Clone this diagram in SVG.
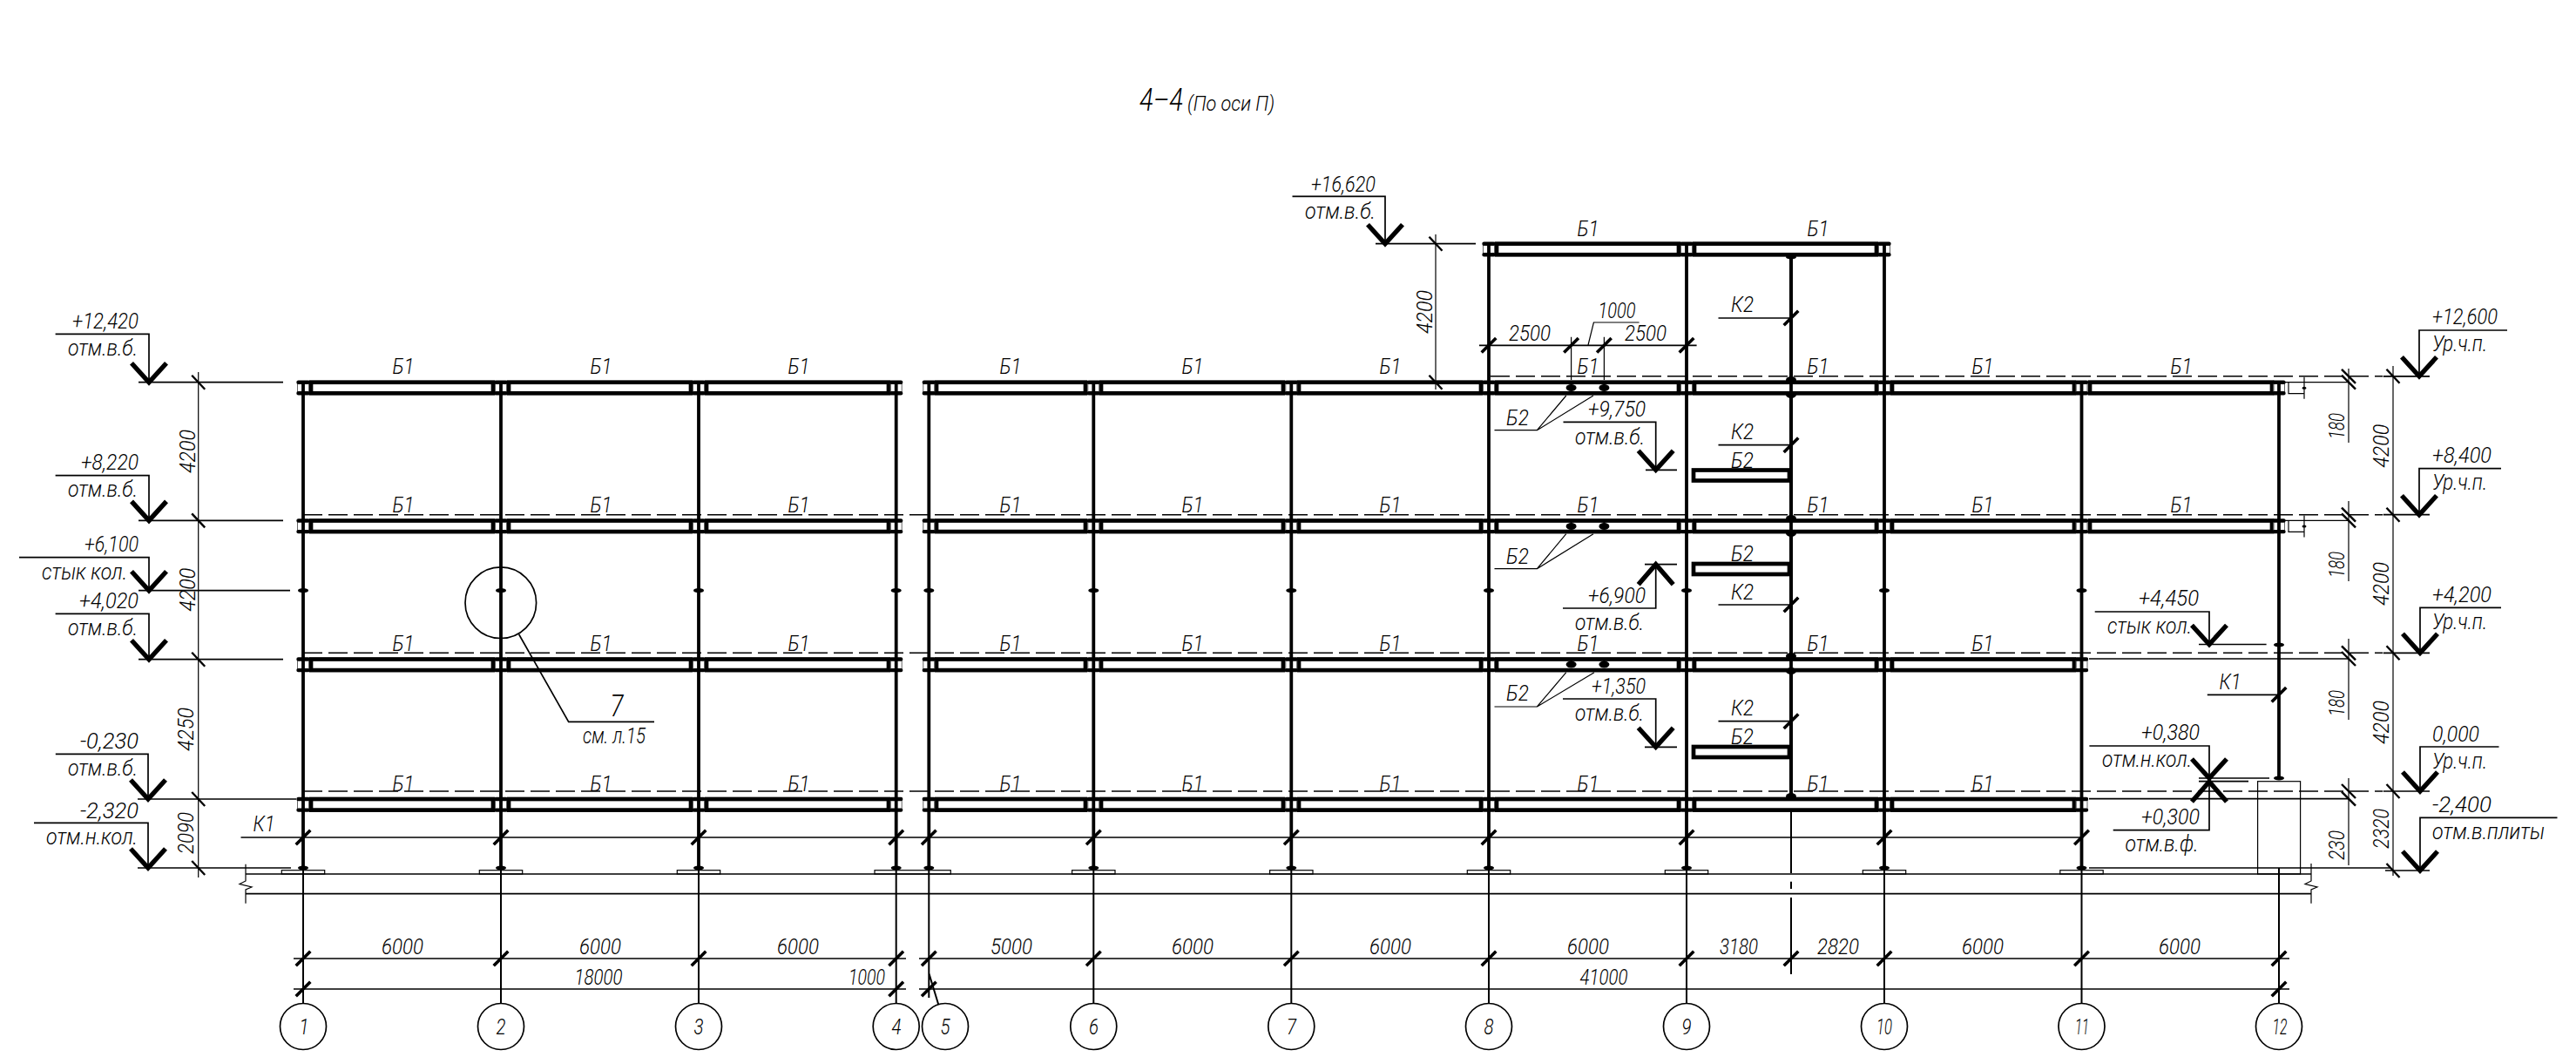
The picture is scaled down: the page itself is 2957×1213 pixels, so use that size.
<svg xmlns="http://www.w3.org/2000/svg" xmlns:xlink="http://www.w3.org/1999/xlink" width="2957" height="1213" viewBox="0 0 2957 1213">
<style>
.bg{fill:#fff}
.th,.md,.lv,.col,.k,.tk,.bt,.ar,.b,.da,.nt,.nb{fill:none;stroke:#000}
.th{stroke-width:1.2}
.md{stroke-width:1.7}
.lv{stroke-width:2.2}
.col{stroke-width:3.8}
.k{stroke-width:2}
.tk{stroke-width:3.6}
.bt{stroke-width:2.4}
.ar{stroke-width:5.4}
.b{stroke-width:4.7;fill:#fff}
.nt{stroke-width:.9;stroke:#555}
.nb{stroke-width:4.4;stroke-linecap:round}
.da{stroke-width:1.4;stroke-dasharray:22 7}
.dot{fill:#000}
text{font-family:"Roboto","Liberation Sans",sans-serif;font-style:italic;font-weight:300;font-size:26px;fill:#000}
.m{text-anchor:middle}
</style>
<defs>
<path id="t" class="tk" d="M-8.3 8.3L8.3-8.3"/>
<path id="bk" class="bt" d="M-7.5-8L7.5 8"/>
<path id="ad" class="ar" d="M-20-22L0 0L20-22"/>
<path id="au" class="ar" d="M-20 23L0 0L20 23"/>
<ellipse id="j" class="dot" rx="6" ry="2.6"/>
<ellipse id="kd" class="dot" rx="6" ry="4"/>
<rect id="bay" class="b" width="209" height="12.6"/>
<rect id="bay5" class="b" width="171" height="12.6"/>
<g id="nub"><path class="nt" d="M-6.5 0V12.6M6.5 0V12.6"/><path class="nb" d="M-5.5 0H5.5M-5.5 12.6H5.5"/></g>
<rect id="plate" class="th" x="-24.7" y="-4.3" width="49.4" height="4.3"/>
<g id="box"><path class="th" d="M2627 0V13H2645M2622 0H2696M2645-6V19"/><ellipse class="dot" cx="2645" cy="6.5" rx="2.5" ry="1.5"/></g>
<g id="dbl"><path class="bt" d="M-8-8L8 8"/></g>
</defs>
<rect class="bg" width="2957" height="1213"/>
<text id="title" x="1308" y="126.7" style="font-size:36px" textLength="50" lengthAdjust="spacingAndGlyphs">4–4</text>
<text x="1363" y="126.7" style="font-size:23px" textLength="100" lengthAdjust="spacingAndGlyphs">(По оси П)</text>

<g id="ground">
<path class="md" d="M282 1003H2653M282 1025.7H2653" stroke="#333"/>
<path class="th" d="M282 991.7V1011L275 1014.5L289 1018L282 1021V1036.7M2653 991V1011L2646 1014.5L2660 1018L2653 1021V1036.7"/>
<use href="#plate" x="348" y="1003"/><use href="#plate" x="575" y="1003"/><use href="#plate" x="802" y="1003"/>
<rect class="th" x="1004" y="998.7" width="87.3" height="4.3"/>
<use href="#plate" x="1255.3" y="1003"/><use href="#plate" x="1482.3" y="1003"/><use href="#plate" x="1709" y="1003"/><use href="#plate" x="1936" y="1003"/><use href="#plate" x="2163" y="1003"/><use href="#plate" x="2389.5" y="1003"/>
<rect class="th" x="2591.6" y="896.7" width="49" height="106.3"/>
</g>

<g id="axis-lines">
<path class="k" d="M348 996V1152M575 996V1152M802 996V1152M1028.7 996V1152M1066.3 996V1145M1066.3 1116.7L1077.3 1153M1255.3 996V1152M1482.3 996V1152M1709 996V1152M1936 996V1152M2163 996V1152M2389.5 996V1152M2616 996V1152"/>
<path class="k" d="M2056 914V1002M2056 1011.7V1020M2056 1030V1118"/>
</g>

<g id="columns">
<path class="col" d="M348 438V996M575 438V996M802 438V996M1028.7 438V996M1066.3 438V996M1255.3 438V996M1482.3 438V996M1709 280V996M1936 280V996M2163 280V996M2389.5 438V996M2616 438V893M2056 295V914"/>
<g id="joints">
<use href="#j" x="348" y="677.7"/><use href="#j" x="575" y="677.7"/><use href="#j" x="802" y="677.7"/><use href="#j" x="1028.7" y="677.7"/><use href="#j" x="1066.3" y="677.7"/><use href="#j" x="1255.3" y="677.7"/><use href="#j" x="1482.3" y="677.7"/><use href="#j" x="1709" y="677.7"/><use href="#j" x="1936" y="677.7"/><use href="#j" x="2163" y="677.7"/><use href="#j" x="2389.5" y="677.7"/><use href="#j" x="2616" y="740"/>
<use href="#j" x="348" y="996"/><use href="#j" x="575" y="996"/><use href="#j" x="802" y="996"/><use href="#j" x="1028.7" y="996"/><use href="#j" x="1066.3" y="996"/><use href="#j" x="1255.3" y="996"/><use href="#j" x="1482.3" y="996"/><use href="#j" x="1709" y="996"/><use href="#j" x="1936" y="996"/><use href="#j" x="2163" y="996"/><use href="#j" x="2389.5" y="996"/><use href="#j" x="2616" y="893"/>
</g>
</g>

<g id="beams">
<use href="#bay" x="1718" y="279.7"/><use href="#bay" x="1945" y="279.7"/>
<use href="#bay" x="357" y="438.7"/><use href="#bay" x="584" y="438.7"/><use href="#bay" x="811" y="438.7"/><use href="#bay5" x="1075" y="438.7"/><use href="#bay" x="1264" y="438.7"/><use href="#bay" x="1491" y="438.7"/><use href="#bay" x="1718" y="438.7"/><use href="#bay" x="1945" y="438.7"/><use href="#bay" x="2172" y="438.7"/><use href="#bay" x="2399" y="438.7"/>
<use href="#bay" x="357" y="597.5"/><use href="#bay" x="584" y="597.5"/><use href="#bay" x="811" y="597.5"/><use href="#bay5" x="1075" y="597.5"/><use href="#bay" x="1264" y="597.5"/><use href="#bay" x="1491" y="597.5"/><use href="#bay" x="1718" y="597.5"/><use href="#bay" x="1945" y="597.5"/><use href="#bay" x="2172" y="597.5"/><use href="#bay" x="2399" y="597.5"/>
<use href="#bay" x="357" y="756.5"/><use href="#bay" x="584" y="756.5"/><use href="#bay" x="811" y="756.5"/><use href="#bay5" x="1075" y="756.5"/><use href="#bay" x="1264" y="756.5"/><use href="#bay" x="1491" y="756.5"/><use href="#bay" x="1718" y="756.5"/><use href="#bay" x="1945" y="756.5"/><use href="#bay" x="2172" y="756.5"/>
<use href="#bay" x="357" y="917"/><use href="#bay" x="584" y="917"/><use href="#bay" x="811" y="917"/><use href="#bay5" x="1075" y="917"/><use href="#bay" x="1264" y="917"/><use href="#bay" x="1491" y="917"/><use href="#bay" x="1718" y="917"/><use href="#bay" x="1945" y="917"/><use href="#bay" x="2172" y="917"/>
<path class="col" d="M2056 295V914"/>
<rect class="b" x="1944" y="539.5" width="110" height="12"/>
<rect class="b" x="1944" y="647" width="110" height="12"/>
<rect class="b" x="1944" y="857" width="110" height="12"/>
<use href="#nub" x="1709" y="279.7"/><use href="#nub" x="1936" y="279.7"/><use href="#nub" x="2163" y="279.7"/>
<use href="#nub" x="348" y="438.7"/><use href="#nub" x="575" y="438.7"/><use href="#nub" x="802" y="438.7"/><use href="#nub" x="1028.7" y="438.7"/><use href="#nub" x="1066.3" y="438.7"/><use href="#nub" x="1255.3" y="438.7"/><use href="#nub" x="1482.3" y="438.7"/><use href="#nub" x="1709" y="438.7"/><use href="#nub" x="1936" y="438.7"/><use href="#nub" x="2163" y="438.7"/><use href="#nub" x="2389.5" y="438.7"/><use href="#nub" x="2616" y="438.7"/>
<use href="#nub" x="348" y="597.5"/><use href="#nub" x="575" y="597.5"/><use href="#nub" x="802" y="597.5"/><use href="#nub" x="1028.7" y="597.5"/><use href="#nub" x="1066.3" y="597.5"/><use href="#nub" x="1255.3" y="597.5"/><use href="#nub" x="1482.3" y="597.5"/><use href="#nub" x="1709" y="597.5"/><use href="#nub" x="1936" y="597.5"/><use href="#nub" x="2163" y="597.5"/><use href="#nub" x="2389.5" y="597.5"/><use href="#nub" x="2616" y="597.5"/>
<use href="#nub" x="348" y="756.5"/><use href="#nub" x="575" y="756.5"/><use href="#nub" x="802" y="756.5"/><use href="#nub" x="1028.7" y="756.5"/><use href="#nub" x="1066.3" y="756.5"/><use href="#nub" x="1255.3" y="756.5"/><use href="#nub" x="1482.3" y="756.5"/><use href="#nub" x="1709" y="756.5"/><use href="#nub" x="1936" y="756.5"/><use href="#nub" x="2163" y="756.5"/><use href="#nub" x="2389.5" y="756.5"/>
<use href="#nub" x="348" y="917"/><use href="#nub" x="575" y="917"/><use href="#nub" x="802" y="917"/><use href="#nub" x="1028.7" y="917"/><use href="#nub" x="1066.3" y="917"/><use href="#nub" x="1255.3" y="917"/><use href="#nub" x="1482.3" y="917"/><use href="#nub" x="1709" y="917"/><use href="#nub" x="1936" y="917"/><use href="#nub" x="2163" y="917"/><use href="#nub" x="2389.5" y="917"/>
<use href="#kd" x="2056" y="436"/><use href="#kd" x="2056" y="453"/><use href="#kd" x="2056" y="595"/><use href="#kd" x="2056" y="612"/><use href="#kd" x="2056" y="753"/><use href="#kd" x="2056" y="770"/><use href="#kd" x="2056" y="914"/><use href="#j" x="2056" y="295"/>
<use href="#kd" x="1803.6" y="445"/><use href="#kd" x="1841.4" y="445"/><use href="#kd" x="1803.6" y="604"/><use href="#kd" x="1841.4" y="604"/><use href="#kd" x="1803.6" y="762.5"/><use href="#kd" x="1841.4" y="762.5"/>
<path class="k" d="M1803.6 438V445M1841.4 438V445M1803.6 597V604M1841.4 597V604M1803.6 756V762M1841.4 756V762"/>
</g>

<g id="dashed">
<path class="da" d="M1711 431.8H2735M348 590.7H2735M348 749.3H2735M348 908H2735"/>
</g>

<g id="levels">
<path class="md" d="M159 438.7H325M159 597.4H325M159 677.7H333M159 756.7H325M158 917H340M158 996H334M1579 279.7H1694"/>
<path class="md" d="M2735.7 431.8H2789M2735.7 590.7H2789M2735.7 749.3H2789M2735.7 908H2789M2738 999H2789M2398 916.7H2696M2398 756H2696M2398 996H2744"/>
<use href="#box" y="438.7"/><use href="#box" y="597.4"/>
<path class="md" d="M1889 539.3H1925M1888 647.7H1925M1888 857.3H1925M2524 739.5H2601.6M2524 893H2605M2524 896.7H2581"/>
</g>

<g id="dimensions">
<path class="th" d="M227.7 427V1007M1648 269V447M2747 420V1005M2696 423V508M2696 575V667M2696 733V826M2696 893V993"/>
<use href="#bk" x="227.7" y="438.7"/><use href="#bk" x="227.7" y="597.4"/><use href="#bk" x="227.7" y="756.7"/><use href="#bk" x="227.7" y="917"/><use href="#bk" x="227.7" y="996"/>
<use href="#bk" x="1648" y="279.7"/><use href="#bk" x="1648" y="438.7"/>
<use href="#bk" x="2747" y="431.8"/><use href="#bk" x="2747" y="590.7"/><use href="#bk" x="2747" y="749.3"/><use href="#bk" x="2747" y="908"/><use href="#bk" x="2747" y="999"/>
<use href="#dbl" x="2696" y="431.8"/><use href="#dbl" x="2696" y="438.7"/><use href="#dbl" x="2696" y="590.7"/><use href="#dbl" x="2696" y="597.4"/><use href="#dbl" x="2696" y="749.3"/><use href="#dbl" x="2696" y="756"/><use href="#dbl" x="2696" y="908"/><use href="#dbl" x="2696" y="916.7"/>
<path class="md" d="M337 1100H1040M1055 1100H2628M337 1135H1040M1055 1135H2628M276.5 961H2389.5M1698 396.3H1947.6"/>
<path class="th" d="M1803.6 386.7V436M1841.4 386.7V436M1823 396L1829.4 370H1881.6"/>
<use href="#t" x="348" y="1100"/><use href="#t" x="575" y="1100"/><use href="#t" x="802" y="1100"/><use href="#t" x="1028.7" y="1100"/><use href="#t" x="1066.3" y="1100"/><use href="#t" x="1255.3" y="1100"/><use href="#t" x="1482.3" y="1100"/><use href="#t" x="1709" y="1100"/><use href="#t" x="1936" y="1100"/><use href="#t" x="2056" y="1100"/><use href="#t" x="2163" y="1100"/><use href="#t" x="2389.5" y="1100"/><use href="#t" x="2616" y="1100"/>
<use href="#t" x="348" y="1135"/><use href="#t" x="1028.7" y="1135"/><use href="#t" x="1066.3" y="1135"/><use href="#t" x="2616" y="1135"/>
<use href="#t" x="348" y="961"/><use href="#t" x="575" y="961"/><use href="#t" x="802" y="961"/><use href="#t" x="1028.7" y="961"/><use href="#t" x="1066.3" y="961"/><use href="#t" x="1255.3" y="961"/><use href="#t" x="1482.3" y="961"/><use href="#t" x="1709" y="961"/><use href="#t" x="1936" y="961"/><use href="#t" x="2163" y="961"/><use href="#t" x="2389.5" y="961"/>
<use href="#t" x="1709" y="396.3"/><use href="#t" x="1803.6" y="396.3"/><use href="#t" x="1841.4" y="396.3"/><use href="#t" x="1936" y="396.3"/>
<use href="#t" x="2056" y="365"/><use href="#t" x="2056" y="510.7"/><use href="#t" x="2056" y="694"/><use href="#t" x="2056" y="827.7"/><use href="#t" x="2616" y="797.3"/>
<path class="md" d="M1972.5 365H2056M1972.5 510.7H2056M1972.5 694H2056M1972.5 827.7H2056M2533.8 797.3H2616"/>
<path class="th" d="M1715.5 493.7H1764.4L1797.8 454M1764.4 493.7L1829 454M1715.5 652.7H1764.4L1797.8 612.7M1764.4 652.7L1829 612.7M1715.5 811H1764.4L1797.8 771.7M1764.4 811L1830 771.7"/>
</g>

<g id="elevations">
<path class="md" d="M63.6 383.3H171V438.7M63.6 545.7H171V597.4M22 639.7H171V677.7M63.6 704.3H171V756.7M63.8 865.3H170V917M39 944.3H170V996M1483.5 225.3H1590V279.7M1794.5 484.3H1900.7V539.3M1794 698H1900.7V647.7M1794 802H1900.7V857.3M2404.7 702H2536V739.5M2398.4 856H2536V893M2425.7 952.7H2536V897M2878 379H2777V431.8M2871 537.7H2777V590.7M2871 697.3H2778V749.3M2868.5 857H2778V908M2935.5 938.3H2778V999"/>
<use href="#ad" x="171" y="438.7"/><use href="#ad" x="171" y="597.4"/><use href="#ad" x="171" y="677.7"/><use href="#ad" x="171" y="756.7"/><use href="#ad" x="170" y="917"/><use href="#ad" x="170" y="996"/><use href="#ad" x="1590" y="279.7"/><use href="#ad" x="1900.7" y="539.3"/><use href="#au" x="1900.7" y="647.7"/><use href="#ad" x="1900.7" y="857.3"/><use href="#ad" x="2536" y="739.5"/><use href="#ad" x="2536" y="893"/><use href="#au" x="2536" y="897"/><use href="#ad" x="2777" y="431.8"/><use href="#ad" x="2777" y="590.7"/><use href="#ad" x="2778" y="749.3"/><use href="#ad" x="2778" y="908"/><use href="#ad" x="2778" y="999"/>
</g>

<g id="callout-7">
<circle class="md" cx="574.8" cy="691.7" r="40.8"/>
<path class="md" d="M595.7 728L652.7 828.3H751"/>
<text class="m" x="708" y="821.7" style="font-size:35px" textLength="15" lengthAdjust="spacingAndGlyphs">7</text>
<text x="669" y="852.7" textLength="72" lengthAdjust="spacingAndGlyphs">см. л.15</text>
</g>

<g id="axis-marks">
<circle class="md" cx="348" cy="1178" r="26.5"/><circle class="md" cx="575" cy="1178" r="26.5"/><circle class="md" cx="802" cy="1178" r="26.5"/><circle class="md" cx="1028.7" cy="1178" r="26.5"/><circle class="md" cx="1085" cy="1178" r="26.5"/><circle class="md" cx="1255.3" cy="1178" r="26.5"/><circle class="md" cx="1482.3" cy="1178" r="26.5"/><circle class="md" cx="1709" cy="1178" r="26.5"/><circle class="md" cx="1936" cy="1178" r="26.5"/><circle class="md" cx="2163" cy="1178" r="26.5"/><circle class="md" cx="2389.5" cy="1178" r="26.5"/><circle class="md" cx="2616" cy="1178" r="26.5"/>
<text class="m" x="349" y="1187" textLength="11" lengthAdjust="spacingAndGlyphs">1</text><text class="m" x="575" y="1187" textLength="11" lengthAdjust="spacingAndGlyphs">2</text><text class="m" x="802" y="1187" textLength="11" lengthAdjust="spacingAndGlyphs">3</text><text class="m" x="1029" y="1187" textLength="11" lengthAdjust="spacingAndGlyphs">4</text><text class="m" x="1085" y="1187" textLength="11" lengthAdjust="spacingAndGlyphs">5</text><text class="m" x="1255.5" y="1187" textLength="11" lengthAdjust="spacingAndGlyphs">6</text><text class="m" x="1482.5" y="1187" textLength="11" lengthAdjust="spacingAndGlyphs">7</text><text class="m" x="1709" y="1187" textLength="11" lengthAdjust="spacingAndGlyphs">8</text><text class="m" x="1936" y="1187" textLength="11" lengthAdjust="spacingAndGlyphs">9</text><text class="m" x="2163" y="1187" textLength="18" lengthAdjust="spacingAndGlyphs">10</text><text class="m" x="2390" y="1187" textLength="16" lengthAdjust="spacingAndGlyphs">11</text><text class="m" x="2617" y="1187" textLength="17" lengthAdjust="spacingAndGlyphs">12</text>
</g>

<g id="beam-labels" lengthAdjust="spacingAndGlyphs">
<text class="m" x="1823" y="271" textLength="25" lengthAdjust="spacingAndGlyphs">Б1</text><text class="m" x="2087" y="271" textLength="25" lengthAdjust="spacingAndGlyphs">Б1</text>
<text class="m" x="463" y="429.3" textLength="25" lengthAdjust="spacingAndGlyphs">Б1</text><text class="m" x="690" y="429.3" textLength="25" lengthAdjust="spacingAndGlyphs">Б1</text><text class="m" x="917" y="429.3" textLength="25" lengthAdjust="spacingAndGlyphs">Б1</text><text class="m" x="1160" y="429.3" textLength="25" lengthAdjust="spacingAndGlyphs">Б1</text><text class="m" x="1369" y="429.3" textLength="25" lengthAdjust="spacingAndGlyphs">Б1</text><text class="m" x="1596" y="429.3" textLength="25" lengthAdjust="spacingAndGlyphs">Б1</text><text class="m" x="1823" y="429.3" textLength="25" lengthAdjust="spacingAndGlyphs">Б1</text><text class="m" x="2087" y="429.3" textLength="25" lengthAdjust="spacingAndGlyphs">Б1</text><text class="m" x="2276" y="429.3" textLength="25" lengthAdjust="spacingAndGlyphs">Б1</text><text class="m" x="2504" y="429.3" textLength="25" lengthAdjust="spacingAndGlyphs">Б1</text>
<text class="m" x="463" y="587.7" textLength="25" lengthAdjust="spacingAndGlyphs">Б1</text><text class="m" x="690" y="587.7" textLength="25" lengthAdjust="spacingAndGlyphs">Б1</text><text class="m" x="917" y="587.7" textLength="25" lengthAdjust="spacingAndGlyphs">Б1</text><text class="m" x="1160" y="587.7" textLength="25" lengthAdjust="spacingAndGlyphs">Б1</text><text class="m" x="1369" y="587.7" textLength="25" lengthAdjust="spacingAndGlyphs">Б1</text><text class="m" x="1596" y="587.7" textLength="25" lengthAdjust="spacingAndGlyphs">Б1</text><text class="m" x="1823" y="587.7" textLength="25" lengthAdjust="spacingAndGlyphs">Б1</text><text class="m" x="2087" y="587.7" textLength="25" lengthAdjust="spacingAndGlyphs">Б1</text><text class="m" x="2276" y="587.7" textLength="25" lengthAdjust="spacingAndGlyphs">Б1</text><text class="m" x="2504" y="587.7" textLength="25" lengthAdjust="spacingAndGlyphs">Б1</text>
<text class="m" x="463" y="746.7" textLength="25" lengthAdjust="spacingAndGlyphs">Б1</text><text class="m" x="690" y="746.7" textLength="25" lengthAdjust="spacingAndGlyphs">Б1</text><text class="m" x="917" y="746.7" textLength="25" lengthAdjust="spacingAndGlyphs">Б1</text><text class="m" x="1160" y="746.7" textLength="25" lengthAdjust="spacingAndGlyphs">Б1</text><text class="m" x="1369" y="746.7" textLength="25" lengthAdjust="spacingAndGlyphs">Б1</text><text class="m" x="1596" y="746.7" textLength="25" lengthAdjust="spacingAndGlyphs">Б1</text><text class="m" x="1823" y="746.7" textLength="25" lengthAdjust="spacingAndGlyphs">Б1</text><text class="m" x="2087" y="746.7" textLength="25" lengthAdjust="spacingAndGlyphs">Б1</text><text class="m" x="2276" y="746.7" textLength="25" lengthAdjust="spacingAndGlyphs">Б1</text>
<text class="m" x="463" y="908" textLength="25" lengthAdjust="spacingAndGlyphs">Б1</text><text class="m" x="690" y="908" textLength="25" lengthAdjust="spacingAndGlyphs">Б1</text><text class="m" x="917" y="908" textLength="25" lengthAdjust="spacingAndGlyphs">Б1</text><text class="m" x="1160" y="908" textLength="25" lengthAdjust="spacingAndGlyphs">Б1</text><text class="m" x="1369" y="908" textLength="25" lengthAdjust="spacingAndGlyphs">Б1</text><text class="m" x="1596" y="908" textLength="25" lengthAdjust="spacingAndGlyphs">Б1</text><text class="m" x="1823" y="908" textLength="25" lengthAdjust="spacingAndGlyphs">Б1</text><text class="m" x="2087" y="908" textLength="25" lengthAdjust="spacingAndGlyphs">Б1</text><text class="m" x="2276" y="908" textLength="25" lengthAdjust="spacingAndGlyphs">Б1</text>
<text class="m" x="1742" y="487.7" textLength="26" lengthAdjust="spacingAndGlyphs">Б2</text><text class="m" x="1742" y="646.7" textLength="26" lengthAdjust="spacingAndGlyphs">Б2</text><text class="m" x="1742" y="804" textLength="26" lengthAdjust="spacingAndGlyphs">Б2</text>
<text class="m" x="2000" y="536.7" textLength="26" lengthAdjust="spacingAndGlyphs">Б2</text><text class="m" x="2000" y="644.3" textLength="26" lengthAdjust="spacingAndGlyphs">Б2</text><text class="m" x="2000" y="854.3" textLength="26" lengthAdjust="spacingAndGlyphs">Б2</text>
<text class="m" x="2000" y="358" textLength="26" lengthAdjust="spacingAndGlyphs">К2</text><text class="m" x="2000" y="504" textLength="26" lengthAdjust="spacingAndGlyphs">К2</text><text class="m" x="2000" y="687.7" textLength="26" lengthAdjust="spacingAndGlyphs">К2</text><text class="m" x="2000" y="821" textLength="26" lengthAdjust="spacingAndGlyphs">К2</text>
<text class="m" x="303" y="954" textLength="25" lengthAdjust="spacingAndGlyphs">К1</text><text class="m" x="2560" y="791" textLength="25" lengthAdjust="spacingAndGlyphs">К1</text>
</g>

<g id="dimension-labels">
<text class="m" x="462" y="1095" textLength="48" lengthAdjust="spacingAndGlyphs">6000</text><text class="m" x="689" y="1095" textLength="48" lengthAdjust="spacingAndGlyphs">6000</text><text class="m" x="916" y="1095" textLength="48" lengthAdjust="spacingAndGlyphs">6000</text><text class="m" x="1161" y="1095" textLength="48" lengthAdjust="spacingAndGlyphs">5000</text><text class="m" x="1369" y="1095" textLength="48" lengthAdjust="spacingAndGlyphs">6000</text><text class="m" x="1596" y="1095" textLength="48" lengthAdjust="spacingAndGlyphs">6000</text><text class="m" x="1823" y="1095" textLength="48" lengthAdjust="spacingAndGlyphs">6000</text><text class="m" x="1996" y="1095" textLength="44" lengthAdjust="spacingAndGlyphs">3180</text><text class="m" x="2110" y="1095" textLength="48" lengthAdjust="spacingAndGlyphs">2820</text><text class="m" x="2276" y="1095" textLength="48" lengthAdjust="spacingAndGlyphs">6000</text><text class="m" x="2502" y="1095" textLength="48" lengthAdjust="spacingAndGlyphs">6000</text>
<text class="m" x="687" y="1130" textLength="55" lengthAdjust="spacingAndGlyphs">18000</text><text class="m" x="995" y="1130" textLength="42" lengthAdjust="spacingAndGlyphs">1000</text><text class="m" x="1841" y="1130" textLength="55" lengthAdjust="spacingAndGlyphs">41000</text>
<text class="m" x="1756" y="391" textLength="48" lengthAdjust="spacingAndGlyphs">2500</text><text class="m" x="1889" y="391" textLength="48" lengthAdjust="spacingAndGlyphs">2500</text><text class="m" x="1856" y="365" textLength="43" lengthAdjust="spacingAndGlyphs">1000</text>
<text class="m" transform="rotate(-90 224 518)" x="224" y="518" textLength="50" lengthAdjust="spacingAndGlyphs">4200</text>
<text class="m" transform="rotate(-90 224 676.7)" x="224" y="676.7" textLength="50" lengthAdjust="spacingAndGlyphs">4200</text>
<text class="m" transform="rotate(-90 222 837)" x="222" y="837" textLength="50" lengthAdjust="spacingAndGlyphs">4250</text>
<text class="m" transform="rotate(-90 222 956)" x="222" y="956" textLength="48" lengthAdjust="spacingAndGlyphs">2090</text>
<text class="m" transform="rotate(-90 1644 358)" x="1644" y="358" textLength="50" lengthAdjust="spacingAndGlyphs">4200</text>
<text class="m" transform="rotate(-90 2691 489)" x="2691" y="489" textLength="30" lengthAdjust="spacingAndGlyphs">180</text>
<text class="m" transform="rotate(-90 2691 648)" x="2691" y="648" textLength="30" lengthAdjust="spacingAndGlyphs">180</text>
<text class="m" transform="rotate(-90 2691 807)" x="2691" y="807" textLength="30" lengthAdjust="spacingAndGlyphs">180</text>
<text class="m" transform="rotate(-90 2691 970)" x="2691" y="970" textLength="34" lengthAdjust="spacingAndGlyphs">230</text>
<text class="m" transform="rotate(-90 2742 511.7)" x="2742" y="511.7" textLength="50" lengthAdjust="spacingAndGlyphs">4200</text>
<text class="m" transform="rotate(-90 2742 670)" x="2742" y="670" textLength="50" lengthAdjust="spacingAndGlyphs">4200</text>
<text class="m" transform="rotate(-90 2742 829)" x="2742" y="829" textLength="50" lengthAdjust="spacingAndGlyphs">4200</text>
<text class="m" transform="rotate(-90 2742 951)" x="2742" y="951" textLength="46" lengthAdjust="spacingAndGlyphs">2320</text>
</g>

<g id="elevation-labels">
<text x="83" y="377" textLength="76" lengthAdjust="spacingAndGlyphs">+12,420</text><text x="78" y="408" textLength="80" lengthAdjust="spacingAndGlyphs">отм.в.б.</text>
<text x="93" y="539" textLength="66" lengthAdjust="spacingAndGlyphs">+8,220</text><text x="78" y="570" textLength="80" lengthAdjust="spacingAndGlyphs">отм.в.б.</text>
<text x="97" y="633" textLength="62" lengthAdjust="spacingAndGlyphs">+6,100</text><text x="48" y="665" textLength="98" lengthAdjust="spacingAndGlyphs">стык кол.</text>
<text x="91" y="698" textLength="68" lengthAdjust="spacingAndGlyphs">+4,020</text><text x="78" y="729" textLength="80" lengthAdjust="spacingAndGlyphs">отм.в.б.</text>
<text x="92" y="859" textLength="67" lengthAdjust="spacingAndGlyphs">-0,230</text><text x="78" y="890" textLength="80" lengthAdjust="spacingAndGlyphs">отм.в.б.</text>
<text x="92" y="938.7" textLength="67" lengthAdjust="spacingAndGlyphs">-2,320</text><text x="53" y="969.3" textLength="105" lengthAdjust="spacingAndGlyphs">отм.н.кол.</text>
<text x="1505" y="220" textLength="74" lengthAdjust="spacingAndGlyphs">+16,620</text><text x="1498" y="250.7" textLength="81" lengthAdjust="spacingAndGlyphs">отм.в.б.</text>
<text x="1823" y="478.3" textLength="66" lengthAdjust="spacingAndGlyphs">+9,750</text><text x="1808" y="510" textLength="80" lengthAdjust="spacingAndGlyphs">отм.в.б.</text>
<text x="1823" y="691.7" textLength="66" lengthAdjust="spacingAndGlyphs">+6,900</text><text x="1808" y="723.3" textLength="79" lengthAdjust="spacingAndGlyphs">отм.в.б.</text>
<text x="1827" y="795.7" textLength="62" lengthAdjust="spacingAndGlyphs">+1,350</text><text x="1808" y="827.3" textLength="79" lengthAdjust="spacingAndGlyphs">отм.в.б.</text>
<text x="2455" y="695.3" textLength="69" lengthAdjust="spacingAndGlyphs">+4,450</text><text x="2419" y="726.7" textLength="97" lengthAdjust="spacingAndGlyphs">стык кол.</text>
<text x="2458" y="849.3" textLength="67" lengthAdjust="spacingAndGlyphs">+0,380</text><text x="2413" y="880" textLength="103" lengthAdjust="spacingAndGlyphs">отм.н.кол.</text>
<text x="2458" y="946" textLength="67" lengthAdjust="spacingAndGlyphs">+0,300</text><text x="2439.5" y="976.7" textLength="84" lengthAdjust="spacingAndGlyphs">отм.в.ф.</text>
<text x="2792" y="372.3" textLength="75" lengthAdjust="spacingAndGlyphs">+12,600</text><text x="2792" y="403.3" textLength="63" lengthAdjust="spacingAndGlyphs">Ур.ч.п.</text>
<text x="2792" y="531" textLength="68" lengthAdjust="spacingAndGlyphs">+8,400</text><text x="2792" y="561.7" textLength="63" lengthAdjust="spacingAndGlyphs">Ур.ч.п.</text>
<text x="2792" y="690.7" textLength="68" lengthAdjust="spacingAndGlyphs">+4,200</text><text x="2792" y="721.7" textLength="63" lengthAdjust="spacingAndGlyphs">Ур.ч.п.</text>
<text x="2792" y="850.7" textLength="54" lengthAdjust="spacingAndGlyphs">0,000</text><text x="2792" y="881.7" textLength="63" lengthAdjust="spacingAndGlyphs">Ур.ч.п.</text>
<text x="2792" y="932.3" textLength="68" lengthAdjust="spacingAndGlyphs">-2,400</text><text x="2792" y="962.7" textLength="129" lengthAdjust="spacingAndGlyphs">отм.в.плиты</text>
</g>
</svg>
